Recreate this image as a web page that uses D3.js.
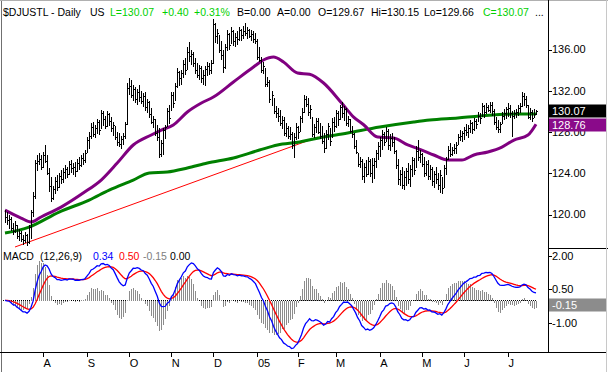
<!DOCTYPE html>
<html>
<head>
<meta charset="utf-8">
<title>$DJUSTL Daily</title>
<style>
  body { margin: 0; background: #fff; }
  text { font-family: "Liberation Sans", Arial, sans-serif; font-size: 11px; }
  text.hdr, text.leg { font-size: 10.5px; }
</style>
</head>
<body>
<script src="https://cdn.jsdelivr.net/npm/d3@7/dist/d3.min.js"></script>
<script>

// daily bars, Jul 2004 - Jul 2005
var hi = [
  120.4,120.2,120.0,119.8,119.2,119.4,119.0,118.6,118.4,118.0,
  118.3,118.1,119.0,120.4,122.2,125.3,125.8,126.0,125.8,126.1,
  126.7,125.8,124.5,123.6,122.8,123.6,123.8,124.0,124.3,124.5,
  124.8,124.6,125.2,125.3,125.0,125.1,125.4,125.6,125.8,126.0,
  126.3,127.5,128.0,128.9,129.0,128.7,129.3,129.2,130.1,130.0,
  129.6,130.0,129.8,129.5,129.0,128.6,128.0,127.9,127.6,127.9,
  129.0,132.8,133.2,133.0,132.6,132.4,132.2,132.6,132.0,131.8,
  131.9,131.2,131.0,130.3,129.6,129.3,128.7,128.4,127.2,128.4,
  128.7,130.3,130.6,131.9,131.9,132.8,134.2,133.9,134.0,135.0,
  135.2,136.2,136.7,136.0,135.8,135.2,134.7,134.5,134.4,134.0,
  134.4,134.8,134.7,135.0,139.0,138.6,138.0,137.4,136.8,136.0,
  136.5,137.9,137.6,138.2,137.9,137.6,137.8,138.2,138.0,138.3,
  138.6,138.2,138.0,137.9,137.8,137.6,137.0,136.2,135.3,134.8,
  134.2,133.3,133.0,132.0,131.3,130.5,130.3,130.1,129.6,129.5,
  128.9,128.6,128.5,128.0,127.9,128.9,128.6,129.6,130.3,131.6,
  131.5,131.3,130.6,129.5,128.8,129.4,129.4,128.9,128.6,127.9,
  128.2,128.9,128.4,129.4,129.5,130.1,130.0,130.6,130.9,130.5,
  130.3,129.6,129.3,128.6,127.9,127.2,126.0,125.6,125.4,125.0,
  125.3,125.6,125.4,125.5,125.5,126.3,127.0,127.5,128.2,128.0,
  128.5,128.3,127.8,127.9,127.5,126.3,125.4,124.3,124.6,124.2,
  124.5,125.0,124.8,125.6,125.5,126.6,127.2,126.3,126.0,125.6,
  125.2,125.3,124.8,124.6,124.2,124.6,124.0,124.3,123.6,124.8,
  125.6,126.6,126.9,126.5,126.8,127.0,127.8,128.2,128.1,128.5,
  128.8,128.7,129.2,129.0,129.4,129.3,129.9,129.8,130.8,130.6,
  130.8,130.6,130.9,130.9,130.2,129.5,129.2,129.0,129.9,130.2,
  130.4,130.8,130.6,130.0,130.1,130.2,130.6,130.8,131.9,131.8,
  131.5,130.6,130.3,130.1,130.2,130.15
];
var lo = [
  119.2,119.0,118.6,118.4,118.0,118.2,117.6,117.4,117.3,117.0,
  117.2,116.9,117.1,117.6,119.8,121.5,124.2,124.8,124.3,124.5,
  125.0,123.8,122.2,121.2,121.4,122.0,122.3,122.6,123.0,123.1,
  123.4,123.5,123.8,124.0,123.8,123.6,124.1,124.3,124.6,124.8,
  125.0,126.0,126.4,127.3,127.5,127.4,127.8,127.7,128.3,128.6,
  128.3,128.5,128.6,128.0,127.6,127.2,126.6,126.5,126.4,126.7,
  127.3,128.7,131.6,131.3,131.0,130.8,130.6,130.9,130.7,130.4,
  130.0,129.8,129.4,128.8,128.4,127.6,127.1,125.5,125.6,125.8,
  127.3,128.5,128.8,130.0,130.3,131.0,132.3,132.5,132.6,133.2,
  133.5,134.0,134.8,134.5,134.3,133.6,133.2,133.0,132.8,132.6,
  132.5,133.4,133.5,133.6,134.6,136.6,136.5,135.7,135.0,133.7,
  134.1,135.9,136.0,136.5,136.3,136.2,136.4,136.8,136.8,137.0,
  137.3,137.0,137.1,136.8,136.6,136.5,135.0,134.8,133.7,133.6,
  132.4,132.4,130.8,130.5,129.7,129.4,129.0,128.6,128.3,127.6,
  127.5,127.3,127.2,126.4,125.5,127.2,127.3,128.0,128.9,129.8,
  130.4,129.6,129.3,127.5,127.4,127.9,127.8,127.3,126.8,126.0,
  126.4,127.2,126.6,127.4,128.0,128.4,128.6,129.2,129.4,129.1,
  128.6,128.5,127.9,127.4,126.4,125.9,124.6,124.5,123.3,123.1,
  123.6,123.8,123.6,123.1,123.4,124.5,125.3,125.6,126.3,126.6,
  127.0,126.3,126.2,126.5,125.9,124.4,122.9,122.8,122.5,122.4,
  122.8,123.0,122.7,123.6,123.8,124.5,125.2,125.0,124.6,123.6,
  123.7,123.3,123.3,122.8,122.6,123.0,122.4,122.1,122.0,122.6,
  123.8,125.3,125.6,125.7,125.9,125.9,126.7,127.1,127.0,127.2,
  127.6,127.4,127.9,127.8,128.1,128.3,129.0,128.8,129.5,129.4,
  129.7,129.9,129.8,129.6,128.7,128.2,127.9,127.9,128.8,129.2,
  129.3,129.5,129.4,127.5,129.3,129.4,129.6,129.8,130.4,130.5,
  130.3,129.3,129.2,129.0,129.4,129.66
];
var cl = [
  119.8,119.5,119.6,118.7,118.4,119.0,117.9,118.2,117.6,117.5,
  118.0,117.3,118.8,120.2,121.8,125.0,125.2,125.4,124.6,125.8,
  125.2,124.0,122.8,121.6,122.5,123.2,122.7,123.7,123.4,124.1,
  124.4,123.9,124.9,124.5,124.6,124.2,125.0,124.8,125.5,125.3,
  126.0,127.2,127.6,128.5,127.8,128.4,129.0,128.2,129.8,129.3,
  128.6,129.7,129.1,128.4,128.7,127.5,127.0,126.8,127.3,127.6,
  128.8,132.3,132.5,131.6,132.2,131.2,131.9,131.4,131.0,131.5,
  130.4,130.9,129.7,129.0,129.3,127.9,127.5,125.9,126.9,128.2,
  128.5,130.0,129.4,131.6,130.8,132.5,133.8,133.2,133.7,134.6,
  134.0,135.8,135.4,135.6,134.7,134.0,133.5,134.2,133.2,133.5,
  134.1,134.4,134.0,134.7,138.5,137.3,137.6,136.0,135.5,134.3,
  136.2,137.5,136.4,137.8,136.8,137.2,137.0,137.9,137.4,137.8,
  137.6,137.9,137.3,137.5,137.0,136.8,135.3,135.0,134.0,134.4,
  132.7,132.8,131.2,131.6,130.0,129.8,129.6,128.9,129.2,127.9,
  128.4,127.6,127.8,126.7,127.5,128.5,128.0,129.4,129.9,131.2,
  130.7,129.9,130.2,127.8,128.5,129.1,128.0,127.6,127.1,126.4,
  127.8,128.6,127.1,129.0,128.6,129.8,129.3,130.4,129.8,130.2,
  128.9,129.3,128.1,127.8,126.6,126.1,124.9,125.2,123.7,124.6,
  123.9,125.2,124.0,124.8,125.2,126.0,126.6,127.2,127.8,127.0,
  128.1,126.7,127.4,127.0,126.2,124.8,123.4,123.9,122.9,123.6,
  124.2,123.4,124.4,125.3,124.3,126.2,125.6,125.9,124.9,124.0,
  124.9,123.7,124.4,123.2,123.9,123.4,122.9,123.8,122.6,124.5,
  125.4,126.3,125.9,126.3,126.4,126.7,127.5,127.6,127.9,128.2,
  128.0,128.4,128.9,128.3,129.1,128.8,129.6,129.4,130.5,129.9,
  130.4,130.1,130.6,130.0,129.0,128.5,128.3,128.8,129.6,129.8,
  130.2,130.3,129.8,129.6,129.8,129.9,130.3,130.5,131.5,131.2,
  130.6,129.5,129.9,129.4,129.7,130.07
];

// moving averages (bar index -> value)
var maFastIdx = [0,8,13,18,28,39,48,56,64,73,78,84,91,98,104,114,124,129,134,139,146,152,159,168,174,179,186,194,201,208,214,221,228,234,241,248,254,261,265];
var maFast    = [120.43,119.66,119.27,119.76,120.72,122.08,123.34,124.99,126.74,127.71,128.19,128.68,129.94,130.81,131.39,132.85,134.30,134.98,135.27,134.79,133.72,133.60,132.75,130.81,129.45,128.70,127.51,127.42,126.74,126.25,125.77,125.28,125.28,125.77,126.06,126.54,127.22,127.71,128.76];
var maSlowIdx = [0,12,27,42,52,64,72,81,91,101,114,127,136,147,154,171,187,204,212,226,237,254,265];
var maSlow    = [118.20,118.78,120.24,121.40,122.37,123.34,124.02,124.12,124.51,124.99,125.48,126.25,126.74,127.03,127.32,127.90,128.48,128.97,129.16,129.36,129.55,129.74,129.74];

// support trendline end points
var trendIdx = [5, 156];
var trendVal = [116.85, 127.5];

var monthLabels = ["A","S","O","N","D","05","F","M","A","M","J","J"];
var monthIdx    = [19,41,62,83,104,126,146,165,187,208,229,251];

var priceTicks = [136, 132, 128, 124, 120];
var macdTicks  = [2, 0.5, -1];

var W = 608, H = 372;

var svg = d3.select("body").append("svg")
    .attr("width", W)
    .attr("height", H)
    .style("display", "block");

var x = d3.scaleLinear().domain([0, cl.length - 1]).range([5, 536]);
var y = d3.scaleLinear().domain([120, 136]).range([214.5, 49.5]);
var ym = d3.scaleLinear().domain([-1, 2]).range([322.6, 255.7]);
// histogram is drawn at twice the line scale
var yh = d3.scaleLinear().domain([-0.5, 1]).range([322.6, 255.7]);

function px(v) { return Math.round(v) + 0.5; }

// ---- MACD (12,26,9) from the closes
function ema(arr, n) {
  var k = 2 / (n + 1), out = [arr[0]];
  for (var i = 1; i < arr.length; i++) out.push(arr[i] * k + out[i - 1] * (1 - k));
  return out;
}
var e12 = ema(cl, 12), e26 = ema(cl, 26);
var macd = cl.map(function(d, i) { return e12[i] - e26[i]; });
var signal = ema(macd, 9);
var hist = macd.map(function(d, i) { return d - signal[i]; });

// ---- frame
svg.append("line").attr("x1", 1.5).attr("x2", 1.5).attr("y1", 0).attr("y2", H)
    .attr("stroke", "#707070");
svg.append("line").attr("x1", 0).attr("x2", W).attr("y1", 0.5).attr("y2", 0.5)
    .attr("stroke", "#b0b0b0");
svg.append("line").attr("x1", 548.5).attr("x2", 548.5).attr("y1", 0).attr("y2", 352)
    .attr("stroke", "#000");
svg.append("line").attr("x1", 548).attr("x2", W).attr("y1", 248.5).attr("y2", 248.5)
    .attr("stroke", "#000");
svg.append("line").attr("x1", 0).attr("x2", 606).attr("y1", 352.5).attr("y2", 352.5)
    .attr("stroke", "#000");
svg.append("line").attr("x1", 606.5).attr("x2", 606.5).attr("y1", 0).attr("y2", H)
    .attr("stroke", "#c8c8c8");

// ---- price panel
svg.append("line")
    .attr("x1", x(trendIdx[0])).attr("y1", y(trendVal[0]))
    .attr("x2", x(trendIdx[1])).attr("y2", y(trendVal[1]))
    .attr("stroke", "#ff0000").attr("stroke-width", 1);

var line = d3.line().curve(d3.curveMonotoneX);

svg.append("path")
    .attr("d", line(maSlowIdx.map(function(d, i) { return [x(d), y(maSlow[i])]; })))
    .attr("fill", "none").attr("stroke", "#008000").attr("stroke-width", 3);

svg.append("path")
    .attr("d", line(maFastIdx.map(function(d, i) { return [x(d), y(maFast[i])]; })))
    .attr("fill", "none").attr("stroke", "#800080").attr("stroke-width", 3);

var bars = svg.append("g").attr("shape-rendering", "crispEdges");
bars.selectAll("line.hl")
    .data(cl)
    .enter().append("line")
    .attr("class", "hl")
    .attr("x1", function(d, i) { return px(x(i)); })
    .attr("x2", function(d, i) { return px(x(i)); })
    .attr("y1", function(d, i) { return y(hi[i]); })
    .attr("y2", function(d, i) { return y(lo[i]); })
    .attr("stroke", "#000");
bars.selectAll("line.cl")
    .data(cl)
    .enter().append("line")
    .attr("class", "cl")
    .attr("x1", function(d, i) { return px(x(i)); })
    .attr("x2", function(d, i) { return px(x(i)) + 1.5; })
    .attr("y1", function(d) { return px(y(d)); })
    .attr("y2", function(d) { return px(y(d)); })
    .attr("stroke", "#000");

// right price axis
var pa = svg.append("g").selectAll("g").data(priceTicks).enter().append("g");
pa.append("line").attr("x1", 548).attr("x2", 552)
    .attr("y1", function(d) { return px(y(d)); }).attr("y2", function(d) { return px(y(d)); })
    .attr("stroke", "#000");
pa.append("text").attr("x", 552).attr("y", function(d) { return y(d); }).attr("dy", "0.36em")
    .text(function(d) { return d.toFixed(2); });

// value boxes
function valueBox(yc, label, fill) {
  svg.append("rect").attr("x", 549).attr("y", Math.round(yc) - 6.5).attr("width", 57).attr("height", 13)
      .attr("fill", fill);
  svg.append("text").attr("x", 552).attr("y", yc).attr("dy", "0.36em")
      .attr("fill", "#fff").text(label);
}
valueBox(y(cl[cl.length - 1]), cl[cl.length - 1].toFixed(2), "#000");
valueBox(y(maFast[maFast.length - 1]) + 0.5, maFast[maFast.length - 1].toFixed(2), "#8a0a8a");

// header
var header = [
  {t: "$DJUSTL - Daily", x: 3, c: "#000"},
  {t: "US", x: 90, c: "#000"},
  {t: "L=130.07", x: 110, c: "#00d000"},
  {t: "+0.40", x: 162, c: "#00d000"},
  {t: "+0.31%", x: 194, c: "#00d000"},
  {t: "B=0.00", x: 237, c: "#000"},
  {t: "A=0.00", x: 277, c: "#000"},
  {t: "O=129.67", x: 318, c: "#000"},
  {t: "Hi=130.15", x: 371, c: "#000"},
  {t: "Lo=129.66", x: 424, c: "#000"},
  {t: "C=130.07", x: 483, c: "#00d000"},
  {t: "...", x: 535, c: "#000"}
];
svg.selectAll("text.hdr").data(header).enter().append("text")
    .attr("class", "hdr")
    .attr("x", function(d) { return d.x; })
    .attr("y", 16)
    .attr("fill", function(d) { return d.c; })
    .text(function(d) { return d.t; });

// ---- MACD panel
var zero = px(ym(0));
svg.append("line").attr("x1", 3).attr("x2", 537).attr("y1", zero).attr("y2", zero)
    .attr("stroke", "#000").attr("stroke-dasharray", "1,1");

svg.append("g").attr("shape-rendering", "crispEdges")
    .selectAll("line").data(hist).enter().append("line")
    .attr("x1", function(d, i) { return px(x(i)); })
    .attr("x2", function(d, i) { return px(x(i)); })
    .attr("y1", zero)
    .attr("y2", function(d) { return yh(d); })
    .attr("stroke", "#8c8c8c");

var mline = d3.line()
    .x(function(d, i) { return x(i); })
    .y(function(d) { return ym(d); });
svg.append("path").attr("d", mline(signal))
    .attr("fill", "none").attr("stroke", "#ff0000").attr("stroke-width", 1.3);
svg.append("path").attr("d", mline(macd))
    .attr("fill", "none").attr("stroke", "#0000ff").attr("stroke-width", 1.3);

var ma = svg.append("g").selectAll("g").data(macdTicks).enter().append("g");
ma.append("line").attr("x1", 548).attr("x2", 552)
    .attr("y1", function(d) { return px(ym(d)); }).attr("y2", function(d) { return px(ym(d)); })
    .attr("stroke", "#000");
ma.append("text").attr("x", 552).attr("y", function(d) { return ym(d); }).attr("dy", "0.36em")
    .text(function(d) { return d.toFixed(2); });

valueBox(305, "-0.15", "#8c8c8c");

var legend = [
  {t: "MACD", x: 3, c: "#000"},
  {t: "(12,26,9)", x: 40, c: "#000"},
  {t: "0.34", x: 93, c: "#0000ff"},
  {t: "0.50", x: 119, c: "#ff0000"},
  {t: "-0.15", x: 143, c: "#808080"},
  {t: "0.00", x: 170, c: "#000"}
];
svg.selectAll("text.leg").data(legend).enter().append("text")
    .attr("class", "leg")
    .attr("x", function(d) { return d.x; })
    .attr("y", 260)
    .attr("fill", function(d) { return d.c; })
    .text(function(d) { return d.t; });

// ---- month axis
var mt = svg.append("g").selectAll("g").data(monthIdx).enter().append("g");
mt.append("line")
    .attr("x1", function(d) { return px(x(d)); }).attr("x2", function(d) { return px(x(d)); })
    .attr("y1", 352).attr("y2", 357)
    .attr("stroke", "#000");
mt.append("text")
    .attr("x", function(d) { return x(d) + 0.5; })
    .attr("y", 367)
    .text(function(d, i) { return monthLabels[i]; });

</script>
</body>
</html>
